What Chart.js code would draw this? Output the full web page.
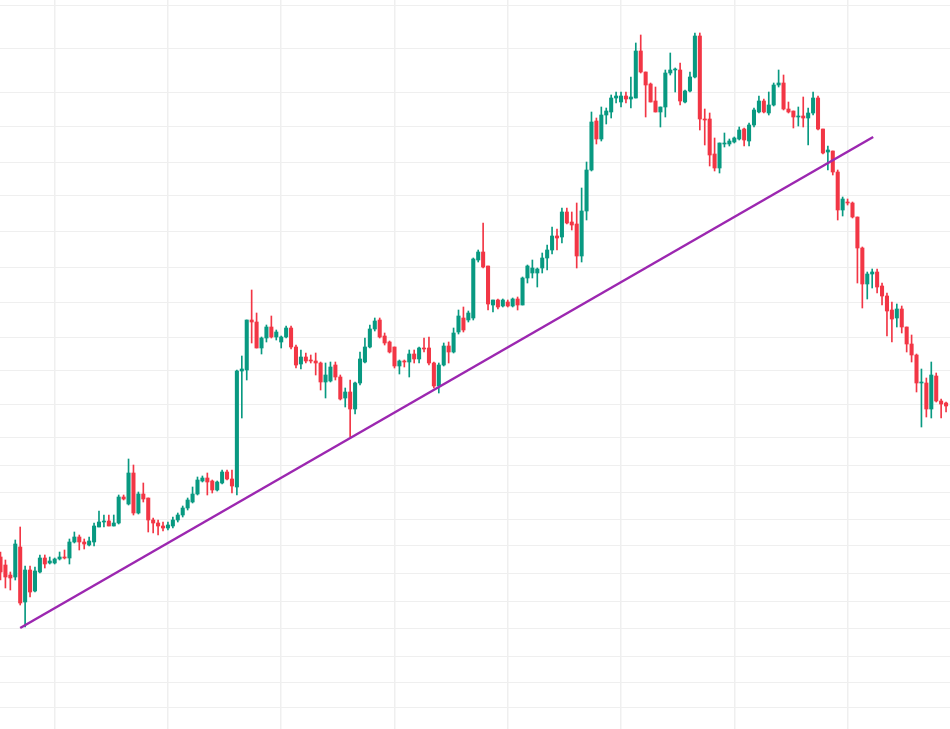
<!DOCTYPE html>
<html lang="en">

<head>
  <meta charset="UTF-8" />
  <meta name="viewport" content="width=device-width, initial-scale=1.0" />
  <title>Candles with trend line</title>
  <style>
    html, body { margin: 0; padding: 0; background: #ffffff; }
    #wrap { width: 950px; height: 729px; position: relative; }
  </style>
</head>

<body>
  <div id="wrap"><canvas id="myChart"></canvas></div>
  <script src="https://cdn.jsdelivr.net/npm/chart.js@4.4.1/dist/chart.umd.min.js"></script>

  <script>
    // price values, one entry per candle
    const open = [
      172, 164, 154, 152, 182, 127, 159, 138, 157, 171, 166, 166, 170, 172, 171, 187, 192, 187, 184, 187,
      202, 207, 208, 203, 206, 232, 225, 256, 216, 235, 231, 209, 206, 203, 201, 203, 209, 214, 221, 227,
      235, 248, 251, 248, 239, 246, 257, 250, 242, 358, 359, 409, 407, 381, 391, 402, 392, 387, 392, 401,
      382, 365, 372, 369, 368, 366, 347, 348, 364, 352, 331, 337, 320, 346, 367, 382, 400, 409, 393, 387,
      382, 363, 368, 367, 375, 370, 381, 381, 366, 343, 364, 383, 377, 397, 411, 409, 411, 469, 477, 463,
      424, 429, 423, 427, 423, 430, 424, 451, 456, 456, 461, 471, 479, 493, 492, 517, 507, 505, 473, 518,
      559, 608, 590, 614, 617, 631, 627, 633, 630, 631, 678, 657, 645, 628, 617, 622, 656, 659, 659, 627,
      638, 652, 693, 610, 610, 575, 561, 585, 585, 587, 590, 600, 588, 604, 617, 628, 616, 624, 644, 646,
      620, 618, 612, 613, 611, 616, 631, 600, 577, 578, 557, 519, 527, 526, 512, 481, 445, 455, 457, 443,
      433, 419, 411, 420, 402, 385, 374, 346, 346, 320, 353, 328, 326
    ];
    const high = [
      177, 169, 157, 189, 202, 163, 163, 162, 174, 174, 172, 171, 177, 179, 190, 197, 194, 190, 192, 206,
      218, 214, 214, 214, 234, 234, 270, 264, 237, 246, 231, 211, 209, 207, 207, 212, 216, 223, 231, 242,
      252, 253, 256, 249, 248, 259, 259, 259, 359, 373, 409, 439, 416, 392, 404, 413, 399, 393, 403, 403,
      384, 379, 376, 374, 376, 367, 366, 367, 367, 354, 341, 349, 347, 377, 391, 404, 411, 411, 396, 388,
      382, 369, 369, 379, 379, 382, 391, 392, 367, 366, 386, 387, 401, 419, 422, 418, 471, 479, 506, 463,
      429, 430, 430, 429, 431, 432, 452, 464, 469, 461, 476, 484, 502, 500, 521, 521, 517, 526, 541, 567,
      617, 611, 622, 621, 634, 637, 637, 637, 652, 686, 694, 657, 646, 642, 622, 659, 676, 661, 666, 639,
      657, 696, 696, 620, 616, 591, 586, 596, 590, 592, 602, 601, 606, 621, 633, 630, 637, 646, 659, 654,
      627, 618, 622, 632, 621, 637, 633, 600, 583, 578, 559, 532, 530, 527, 512, 482, 457, 460, 460, 446,
      436, 427, 425, 423, 402, 394, 375, 360, 351, 367, 356, 330, 327
    ];
    const low = [
      149, 141, 139, 149, 124, 102, 132, 137, 156, 161, 165, 165, 169, 170, 165, 186, 179, 180, 183, 183,
      202, 202, 203, 203, 205, 229, 224, 214, 215, 227, 197, 196, 194, 198, 199, 201, 207, 212, 219, 226,
      234, 247, 234, 236, 238, 245, 249, 236, 234, 311, 349, 386, 381, 375, 387, 391, 389, 381, 391, 380,
      361, 360, 366, 366, 354, 339, 331, 347, 349, 329, 322, 292, 315, 344, 366, 381, 398, 391, 384, 376,
      361, 355, 362, 352, 366, 366, 377, 364, 341, 336, 363, 366, 376, 395, 397, 407, 409, 467, 461, 419,
      417, 420, 422, 422, 422, 419, 424, 446, 451, 442, 456, 459, 475, 479, 486, 505, 499, 461, 467, 509,
      558, 585, 588, 605, 611, 626, 622, 626, 621, 631, 656, 612, 627, 617, 602, 612, 654, 637, 624, 626,
      637, 651, 599, 584, 563, 558, 556, 582, 583, 586, 589, 583, 583, 602, 616, 616, 614, 623, 642, 619,
      616, 601, 603, 602, 584, 614, 599, 575, 559, 554, 509, 513, 524, 511, 446, 421, 430, 441, 436, 424,
      393, 387, 402, 396, 377, 367, 337, 302, 312, 311, 327, 311, 317
    ];
    const close = [
      157, 152, 151, 185, 126, 159, 137, 158, 171, 165, 168, 170, 172, 171, 187, 192, 187, 185, 188, 203,
      207, 208, 203, 206, 232, 230, 256, 216, 235, 230, 209, 206, 203, 201, 204, 209, 214, 221, 229, 235,
      249, 251, 247, 239, 247, 257, 250, 243, 358, 360, 409, 407, 381, 391, 402, 392, 397, 392, 401, 382,
      364, 372, 368, 368, 366, 347, 354, 362, 352, 330, 337, 320, 346, 370, 382, 400, 408, 392, 386, 377,
      363, 368, 367, 375, 370, 381, 380, 366, 343, 364, 383, 377, 396, 413, 399, 416, 470, 477, 462, 425,
      429, 422, 429, 423, 430, 424, 451, 463, 461, 460, 471, 479, 493, 491, 517, 506, 504, 473, 518, 559,
      607, 590, 614, 618, 631, 633, 633, 630, 632, 678, 657, 644, 627, 617, 622, 656, 659, 660, 628, 638,
      652, 693, 610, 609, 574, 561, 586, 586, 588, 591, 599, 589, 604, 619, 628, 617, 624, 644, 646, 620,
      617, 612, 613, 611, 616, 631, 600, 576, 579, 557, 519, 530, 526, 512, 481, 445, 455, 457, 442, 433,
      418, 410, 420, 402, 385, 374, 346, 347, 320, 354, 328, 325, 323
    ];

    // horizontal grid levels and vertical grid positions (candle index)
    const priceLevels = [724, 680, 637, 602, 567, 533, 498, 462, 427, 392, 358, 325, 292, 264, 237, 210, 183, 156, 128, 101, 73, 47, 22];
    const timeMarks = [11, 34, 57, 80, 103, 126, 149, 172];

    // trend line end points
    const trendX = [4, 177.2];
    const trendY = [101, 592];

    const upColor = "#089981";
    const downColor = "#f23645";
    const gridColor = "#efefef";

    const colors = open.map((o, i) => (close[i] >= o ? upColor : downColor));
    const bodies = open.map((o, i) => ({ x: i, y: [o, close[i]] }));
    const wicks = low.map((l, i) => ({ x: i, y: [l, high[i]] }));
    const trend = trendX.map((x, i) => ({ x: x, y: trendY[i] }));

    new Chart(document.getElementById("myChart"), {
      type: "bar",
      data: {
        datasets: [
          {
            type: "line",
            data: trend,
            borderColor: "#9c27b0",
            borderWidth: 2.5,
            pointRadius: 0,
            order: 0,
          },
          {
            data: bodies,
            backgroundColor: colors,
            barThickness: 3.4,
            minBarLength: 1,
            grouped: false,
            order: 1,
          },
          {
            data: wicks,
            backgroundColor: colors,
            barThickness: 1,
            grouped: false,
            order: 2,
          },
        ],
      },
      options: {
        responsive: true,
        maintainAspectRatio: false,
        animation: false,
        layout: { padding: 0 },
        plugins: {
          legend: { display: false },
          tooltip: { enabled: false },
        },
        scales: {
          x: {
            type: "linear",
            min: -0.1,
            max: 192.8,
            offset: false,
            border: { display: false },
            ticks: { display: false },
            grid: { color: gridColor, lineWidth: 1.5, drawTicks: false, offset: false },
            afterBuildTicks: (scale) => {
              scale.ticks = timeMarks.map((v) => ({ value: v }));
            },
          },
          y: {
            min: 0,
            max: 729,
            border: { display: false },
            ticks: { display: false },
            grid: { color: gridColor, lineWidth: 1, drawTicks: false },
            afterBuildTicks: (scale) => {
              scale.ticks = priceLevels.map((v) => ({ value: v }));
            },
          },
        },
      },
    });
  </script>
</body>

</html>
